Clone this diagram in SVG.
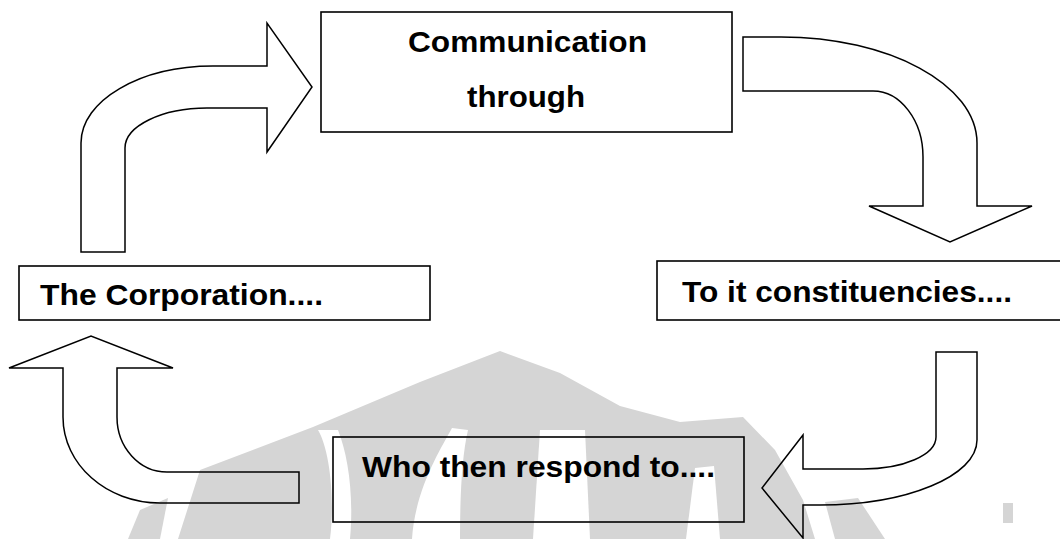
<svg xmlns="http://www.w3.org/2000/svg" width="1060" height="539" viewBox="0 0 1060 539">
  <style>
    .box { fill: none; stroke: #000; stroke-width: 1.6; }
    .arrow { fill: none; stroke: #000; stroke-width: 1.5; stroke-linejoin: miter; }
    .label { font-family: "Liberation Sans", Arial, sans-serif; font-weight: bold; font-size: 30px; fill: #000; }
    .wm { fill: #d5d5d5; }
    .wm-cut { fill: #fff; }
  </style>
  <rect width="1060" height="539" fill="#fff"/>

  <!-- faint emblem behind the cycle -->
  <g id="watermark">
    <path class="wm" d="M 178 539 L 200 470 L 313 427 L 420 382 L 500 351 L 560 373 L 620 406 L 680 422 L 743 417 L 775 450 L 803 500 L 815 539 Z"/>
    <path class="wm" d="M 128 539 L 140 510 L 168 498 L 160 539 Z"/>
    <path class="wm" d="M 825 502 L 858 498 L 885 539 L 835 539 Z"/>
    <rect class="wm" x="1003" y="503" width="10" height="20"/>
    <path class="wm-cut" d="M 318 430 C 330 450 335 500 330 539 L 350 539 C 354 495 348 455 338 430 Z"/>
    <path class="wm-cut" d="M 452 428 C 440 450 415 490 412 539 L 460 539 C 460 495 462 455 468 430 Z"/>
    <path class="wm-cut" d="M 540 430 L 585 430 L 590 539 L 533 539 Z"/>
    <path class="wm-cut" d="M 695 468 L 714 466 L 720 539 L 686 539 Z"/>
  </g>

  <!-- block arrows linking the four stages -->
  <g id="connectors">
    <path class="arrow" d="M 81 252 L 81 143 C 81 100.5 140 66 213 66 L 267 66 L 267 23 L 312 87 L 267 152 L 267 108 L 207 108 C 162 108 125 126 125 148 L 125 252 Z"/>
    <path class="arrow" d="M 743 37 L 781 37 C 889 37 977 84.5 977 143 L 977 206 L 1032 206 L 950 242 L 869 206 L 923 206 L 923 157 C 923 120.6 900.6 91 873 91 L 743 91 Z"/>
    <path class="arrow" d="M 936 352 L 977 352 L 977 440 C 977 476 907 505 820 505 L 803 505 L 803 538 L 762 488 L 803 435 L 803 469 L 863 469 C 903 469 936 455 936 437 Z"/>
    <path class="arrow" d="M 299 472 L 167 472 C 139.4 472 117 447.4 117 417 L 117 368 L 173 368 L 91 336 L 9 368 L 63 368 L 63 417 C 63 464.5 106.5 503 160 503 L 299 503 Z"/>
  </g>

  <g id="communication">
    <rect class="box" x="321" y="12" width="411" height="120"/>
    <text class="label" x="527.5" y="52" text-anchor="middle" textLength="239" lengthAdjust="spacingAndGlyphs">Communication</text>
    <text class="label" x="526" y="107" text-anchor="middle" textLength="118" lengthAdjust="spacingAndGlyphs">through</text>
  </g>

  <g id="constituencies">
    <rect class="box" x="657" y="261" width="420" height="59"/>
    <text class="label" x="682" y="302" textLength="330" lengthAdjust="spacingAndGlyphs">To it constituencies....</text>
  </g>

  <g id="respond">
    <rect class="box" x="333" y="437" width="411" height="85"/>
    <text class="label" x="362" y="477" textLength="353" lengthAdjust="spacingAndGlyphs">Who then respond to....</text>
  </g>

  <g id="corporation">
    <rect class="box" x="19" y="266" width="411" height="54"/>
    <text class="label" x="40" y="305" textLength="283" lengthAdjust="spacingAndGlyphs">The Corporation....</text>
  </g>
</svg>
